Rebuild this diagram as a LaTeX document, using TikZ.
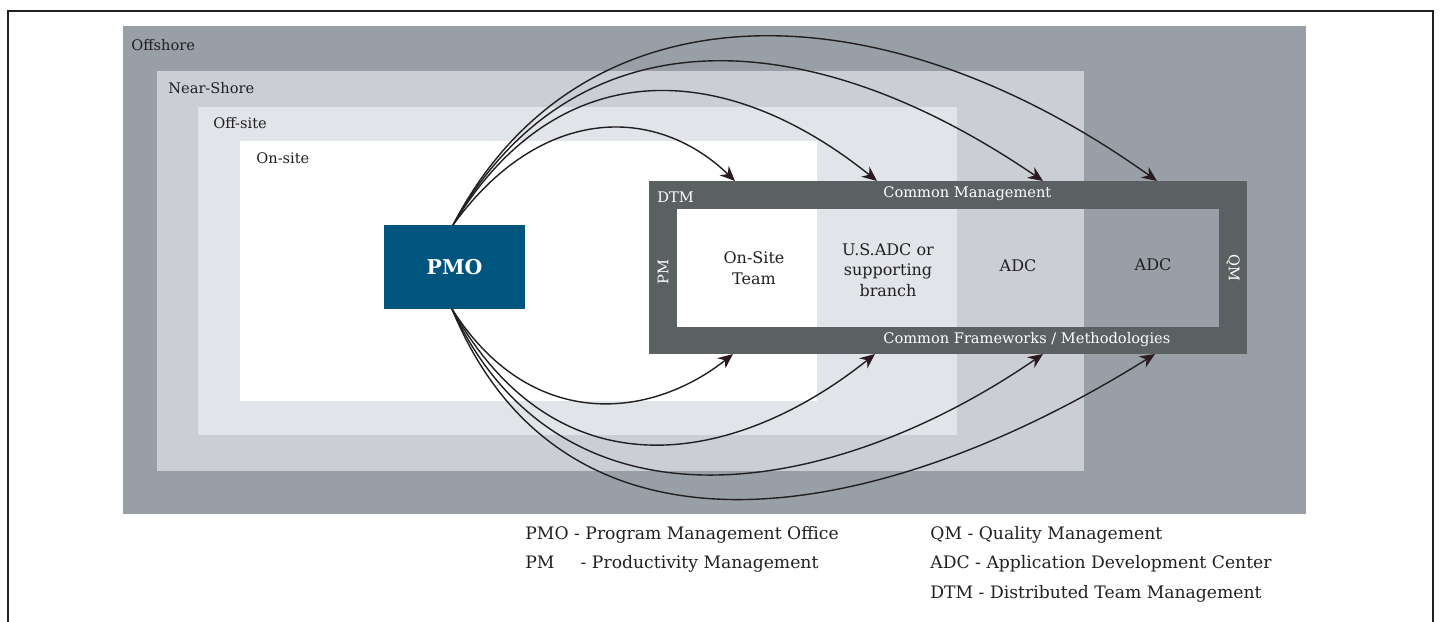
\documentclass[tikz,border=0pt]{standalone}
\usepackage{fontspec}
\setmainfont{DejaVu Serif}
\usetikzlibrary{arrows.meta}

\definecolor{offshore}{HTML}{989FA6}
\definecolor{nearshore}{HTML}{CBCED5}
\definecolor{offsite}{HTML}{E1E4E8}
\definecolor{dtmgrey}{HTML}{5B6162}
\definecolor{pmoblue}{HTML}{00557F}
\definecolor{ink}{HTML}{231F20}
\definecolor{headc}{HTML}{2B1A1F}

\newcommand\lblfont{\fontsize{8}{10.2}\selectfont}
\newcommand\smallfont{\fontsize{7.3}{9}\selectfont}
\newcommand\keyfont{\fontsize{8.6}{10}\selectfont}

\begin{document}
\begin{tikzpicture}[x=0.5pt,y=-0.5pt,
  zone/.style={font=\smallfont, text=ink, inner sep=0pt, anchor=west},
  wlbl/.style={font=\smallfont, text=white, inner sep=0pt},
  cell/.style={font=\lblfont, text=ink, align=center, inner sep=0pt},
  legend/.style={font=\keyfont, text=ink, inner sep=0pt, anchor=west},
  link/.style={draw=ink, line width=0.7pt,
    -{Stealth[length=7.5pt,width=6.5pt,inset=2.5pt,color=headc]}},
]
\useasboundingbox (0,0) rectangle (1440,621);

% frame open at the bottom
\draw[ink, line width=1.3pt] (8,625) -- (8,11) -- (1433,11) -- (1433,625);

% nested location zones
\fill[offshore]  (123,26)  rectangle (1306,514);
\fill[nearshore] (157,71)  rectangle (1084,471);
\fill[offsite]   (198,107) rectangle (957,435);
\fill[white]     (240,141) rectangle (817,401);

\node[zone] (lOff)  at (131,45)  {Offshore};
\node[zone] (lNear) at (168,88)  {Near-Shore};
\node[zone] (lOffs) at (213,123) {Off-site};
\node[zone] (lOn)   at (256,158) {On-site};

% distributed team management frame
\fill[dtmgrey] (649,181) rectangle (1247,354);
\fill[white]     (677,209) rectangle (817,327);
\fill[offsite]   (817,209) rectangle (957,327);
\fill[nearshore] (957,209) rectangle (1084,327);
\fill[offshore]  (1084,209) rectangle (1219,327);

\node[wlbl, anchor=west] (dtm) at (657,197) {DTM};
\node[wlbl, anchor=west] (cm)  at (883,194) {Common Management};
\node[wlbl, anchor=west] (cf)  at (883,340) {Common Frameworks / Methodologies};
\node[wlbl, rotate=90]   (pm)  at (663,272) {PM};
\node[wlbl, rotate=-90]  (qm)  at (1233,268) {QM};

\node[cell] (onsite) at (754,268)  {On-Site\\Team};
\node[cell] (usadc)  at (888,270)  {U.S.ADC or\\supporting\\branch};
\node[cell] (adc1)   at (1018,266) {ADC};
\node[cell] (adc2)   at (1153,265) {ADC};

% program management office
\node[fill=pmoblue, text=white, font=\fontsize{10.2}{12}\selectfont\bfseries,
      minimum width=70.5pt, minimum height=42pt, inner sep=0pt]
      (pmo) at (454.5,267) {PMO};

\coordinate (pt) at (453,225);
\coordinate (pb) at (452,309);

\coordinate (t1) at (735,181);
\coordinate (t2) at (877,181);
\coordinate (t3) at (1043,181);
\coordinate (t4) at (1157,181);
\coordinate (b1) at (733,354);
\coordinate (b2) at (875,354);
\coordinate (b3) at (1043,354);
\coordinate (b4) at (1155,354);

% links from the PMO over the top
\draw[link] (pt) .. controls (540,105) and (655,104) .. (t1);
\draw[link] (pt) .. controls (555,55)  and (720,55)  .. (t2);
\draw[link] (pt) .. controls (570,15)  and (800,15)  .. (t3);
\draw[link] (pt) .. controls (580,-20) and (880,-17) .. (t4);

% links from the PMO underneath
\draw[link] (pb) .. controls (530,432) and (650,420) .. (b1);
\draw[link] (pb) .. controls (560,502) and (740,462) .. (b2);
\draw[link] (pb) .. controls (565,550) and (840,494) .. (b3);
\draw[link] (pb) .. controls (570,595) and (900,514) .. (b4);

% legend
\node[legend] (k1) at (525,535) {PMO - Program Management Office};
\node[legend] (k2) at (525,564) {PM\hspace{1.2em} - Productivity Management};
\node[legend] (k3) at (930,535) {QM - Quality Management};
\node[legend] (k4) at (930,564) {ADC - Application Development Center};
\node[legend] (k5) at (930,594) {DTM - Distributed Team Management};
\end{tikzpicture}
\end{document}
